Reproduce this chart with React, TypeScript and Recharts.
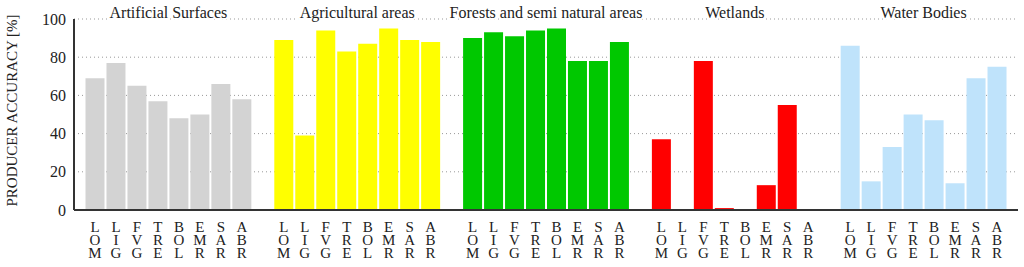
import React from 'react';
import { BarChart, Bar, Cell, XAxis, YAxis, CartesianGrid, ReferenceArea } from 'recharts';

const regions = ['LOM', 'LIG', 'FVG', 'TRE', 'BOL', 'EMR', 'SAR', 'ABR'];

const classNames = [
  'Artificial Surfaces',
  'Agricultural areas',
  'Forests and semi natural areas',
  'Wetlands',
  'Water Bodies',
];

const classColors = ['#d3d3d3', '#ffff00', '#00c800', '#ff0000', '#bfe3fb'];

const artificial = [69, 77, 65, 57, 48, 50, 66, 58];
const agricultural = [89, 39, 94, 83, 87, 95, 89, 88];
const forests = [90, 93, 91, 94, 95, 78, 78, 88];
const wetlands = [37, 0, 78, 1, 0, 13, 55, 0];
const water = [86, 15, 33, 50, 47, 14, 69, 75];

const classValues = [artificial, agricultural, forests, wetlands, water];

const yTicks = [0, 20, 40, 60, 80, 100];

const FONT = '"Liberation Serif", "Times New Roman", serif';

type Row = { key: string; region: string; value: number | null; color: string };

// one row per bar, plus an empty slot between land cover classes
const rows: Row[] = [];
classNames.forEach((name, ci) => {
  if (ci > 0) rows.push({ key: `gap${ci}`, region: '', value: null, color: 'none' });
  regions.forEach((r, ri) => {
    rows.push({ key: `${ci}-${r}`, region: r, value: classValues[ci][ri], color: classColors[ci] });
  });
});

const regionByKey: Record<string, string> = {};
rows.forEach(r => { regionByKey[r.key] = r.region; });

const RegionTick = (props: any) => {
  const { x, y, payload } = props;
  const letters = (regionByKey[payload.value] || '').split('');
  return (
    <g>
      {letters.map((ch, i) => (
        <text key={i} x={x} y={y + 14 + i * 13} textAnchor="middle" fontSize={15} fontFamily={FONT} fill="#222">
          {ch}
        </text>
      ))}
    </g>
  );
};

const groupTitle = (name: string) => (props: any) => {
  const vb = props.viewBox || {};
  return (
    <text
      x={vb.x + vb.width / 2}
      y={vb.y - 1}
      textAnchor="middle"
      fontSize={16}
      fontFamily={FONT}
      fill="#222"
      stroke="#fff"
      strokeWidth={4}
      paintOrder="stroke"
    >
      {name}
    </text>
  );
};

const yLabel = (props: any) => {
  const vb = props.viewBox || {};
  const cx = 17;
  const cy = vb.y + vb.height / 2 - 4;
  return (
    <text
      x={cx}
      y={cy}
      transform={`rotate(-90 ${cx} ${cy})`}
      textAnchor="middle"
      fontSize={15}
      fontFamily={FONT}
      fill="#222"
    >
      PRODUCER ACCURACY [%]
    </text>
  );
};

export default function App() {
  return (
    <div style={{ position: 'absolute', left: 0, top: 0, width: 1024, height: 267, background: '#fff' }}>
      <BarChart
        width={1024}
        height={267}
        data={rows}
        margin={{ top: 19, right: 6, bottom: 0, left: 0 }}
        barCategoryGap={1}
      >
        <CartesianGrid vertical={false} stroke="#999" strokeDasharray="1 3" />
        <XAxis
          dataKey="key"
          interval={0}
          height={57}
          tickLine={false}
          tick={<RegionTick />}
          axisLine={{ stroke: '#333', strokeWidth: 2 }}
          padding={{ left: 10.5, right: 10.5 }}
        />
        <YAxis
          width={74}
          domain={[0, 100]}
          ticks={yTicks}
          tickLine={false}
          axisLine={{ stroke: '#333', strokeWidth: 2 }}
          tick={{ fontSize: 16, fontFamily: FONT, fill: '#222' }}
          label={{ content: yLabel }}
        />
        <Bar dataKey="value" isAnimationActive={false}>
          {rows.map(r => (
            <Cell key={r.key} fill={r.color} />
          ))}
        </Bar>
        {classNames.map((name, ci) => (
          <ReferenceArea
            key={name}
            x1={`${ci}-${regions[0]}`}
            x2={`${ci}-${regions[regions.length - 1]}`}
            y1={0}
            y2={100}
            fill="none"
            fillOpacity={0}
            stroke="none"
            label={groupTitle(name)}
          />
        ))}
      </BarChart>
    </div>
  );
}
